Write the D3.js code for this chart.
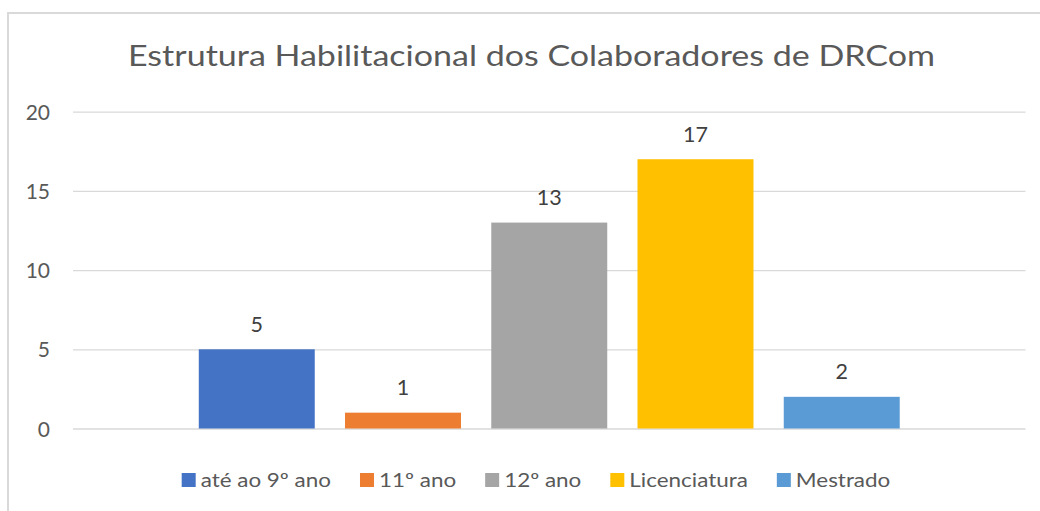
<!DOCTYPE html>
<html>
<head>
<meta charset="utf-8">
<script src="https://cdn.jsdelivr.net/npm/d3@7"></script>
<style>
  body { margin: 0; background: #fff; }
  text { font-family: Lato, "Open Sans", sans-serif; fill: #595959; }
</style>
</head>
<body>
<svg id="chart" width="1040" height="511"></svg>
<script>
const title = 'Estrutura Habilitacional dos Colaboradores de DRCom';
const series = ['até ao 9º ano', '11º ano', '12º ano', 'Licenciatura', 'Mestrado'];
const values = [5, 1, 13, 17, 2];
const colors = ['#4472C4', '#ED7D31', '#A5A5A5', '#FFC000', '#5B9BD5'];
const yTicks = [0, 5, 10, 15, 20];

const svg = d3.select('#chart');
const plotLeft = 73, plotRight = 1025.5, plotTop = 111.7, plotBottom = 428.5;

// stretch text horizontally to mimic the wider Calibri rendering
function stretch(sel, factor) {
  sel.each(function () {
    const w = this.getComputedTextLength();
    d3.select(this).attr('textLength', w * factor).attr('lengthAdjust', 'spacingAndGlyphs');
  });
}

// chart border
svg.append('rect')
  .attr('x', 8).attr('y', 13)
  .attr('width', 1100).attr('height', 600)
  .attr('fill', 'none')
  .attr('stroke', '#d9d9d9')
  .attr('stroke-width', 2);

svg.append('text')
  .attr('x', 531.5).attr('y', 66)
  .attr('text-anchor', 'middle')
  .attr('font-size', 29)
  .text(title)
  .call(sel => sel.each(function () {
    d3.select(this).attr('textLength', 807).attr('lengthAdjust', 'spacingAndGlyphs');
  }));

const x = d3.scaleBand()
  .domain(series)
  .range([plotLeft, plotRight])
  .paddingInner(0.207)
  .paddingOuter(0.86);

const y = d3.scaleLinear()
  .domain([0, 20])
  .range([plotBottom, plotTop]);

// gridlines + labels
const yAxis = svg.append('g')
  .attr('transform', `translate(${plotLeft},0)`)
  .call(d3.axisLeft(y).tickValues(yTicks).tickSize(-(plotRight - plotLeft)).tickPadding(23));
yAxis.select('.domain').remove();
yAxis.selectAll('.tick line').attr('stroke', '#d9d9d9').attr('stroke-width', 1.3);
yAxis.selectAll('.tick text')
  .attr('font-size', 21)
  .attr('fill', '#595959')
  .attr('dy', '0.36em')
  .style('font-family', 'Lato, "Open Sans", sans-serif');

svg.selectAll('.bar')
  .data(series)
  .join('rect')
  .attr('class', 'bar')
  .attr('x', d => x(d))
  .attr('width', x.bandwidth())
  .attr('y', (d, i) => y(values[i]))
  .attr('height', (d, i) => y(0) - y(values[i]))
  .attr('fill', (d, i) => colors[i]);

svg.selectAll('.lbl')
  .data(series)
  .join('text')
  .attr('class', 'lbl')
  .attr('x', d => x(d) + x.bandwidth() / 2)
  .attr('y', (d, i) => y(values[i]) - 17.5)
  .attr('text-anchor', 'middle')
  .attr('font-size', 21.5)
  .style('fill', '#404040')
  .text((d, i) => values[i]);

// legend: swatch 14px, 5px gap, text, 29px gap to next swatch
const lg = svg.append('g');
let cursor = 0;
series.forEach((s, i) => {
  lg.append('rect')
    .attr('x', cursor).attr('y', 473)
    .attr('width', 14).attr('height', 14)
    .attr('fill', colors[i]);
  const t = lg.append('text')
    .attr('x', cursor + 19).attr('y', 487)
    .attr('font-size', 19.5)
    .text(s);
  stretch(t, 1.15);
  cursor += 19 + t.node().getComputedTextLength() + 29;
});
const legendWidth = cursor - 29;
lg.attr('transform', `translate(${536 - legendWidth / 2},0)`);
</script>
</body>
</html>
